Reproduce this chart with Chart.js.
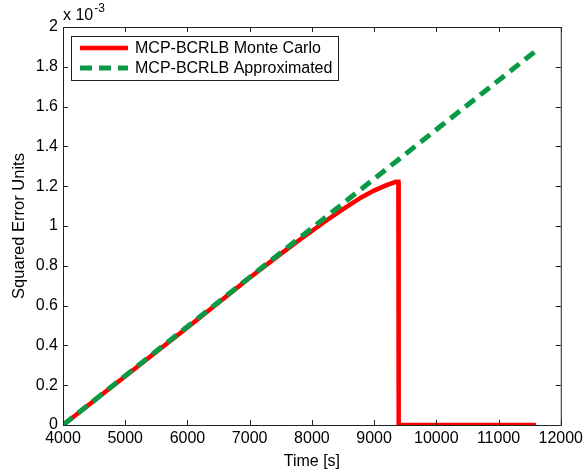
<!DOCTYPE html>
<html>
<head>
<meta charset="utf-8">
<script src="https://cdn.jsdelivr.net/npm/chart.js@4.4.0/dist/chart.umd.min.js"></script>
<style>
  html, body { margin: 0; padding: 0; background: #fff; }
  #wrap { width: 587px; height: 471px; }
</style>
</head>
<body>
<div id="wrap"><canvas id="grafico" width="587" height="471"></canvas></div>
<script>
// valores em unidades de 1e-3
const tempoMC = [4000, 5000, 6000, 7000, 7500, 7800, 8000, 8200, 8400, 8600, 8800, 9000, 9200, 9350, 9390, 9395, 11600];
const erroMC = [0, 0.245, 0.49, 0.74, 0.86, 0.93, 0.975, 1.02, 1.063, 1.105, 1.145, 1.178, 1.205, 1.222, 1.222, 0, 0];

const tempoAprox = [4000, 11600];
const erroAprox = [0, 1.88];

const xTicks = [4000, 5000, 6000, 7000, 8000, 9000, 10000, 11000, 12000];
const yTicks = [0, 0.2, 0.4, 0.6, 0.8, 1, 1.2, 1.4, 1.6, 1.8, 2];

const fonte = "'Liberation Sans', Arial, sans-serif";

function pontos(xs, ys) {
  return xs.map((x, i) => ({ x: x, y: ys[i] }));
}

// caixa, ticks para dentro e o "x 10^-3"
const estiloMatlab = {
  id: "estiloMatlab",
  afterDraw(chart) {
    const ctx = chart.ctx;
    const a = chart.chartArea;
    const sx = chart.scales.x;
    const sy = chart.scales.y;
    ctx.save();
    ctx.strokeStyle = "#222";
    ctx.lineWidth = 1;
    ctx.strokeRect(a.left + 0.5, a.top + 0.5, a.right - a.left, a.bottom - a.top);
    ctx.beginPath();
    xTicks.forEach(v => {
      const px = Math.round(sx.getPixelForValue(v)) + 0.5;
      ctx.moveTo(px, a.bottom); ctx.lineTo(px, a.bottom - 5);
      ctx.moveTo(px, a.top); ctx.lineTo(px, a.top + 5);
    });
    yTicks.forEach(v => {
      const py = Math.round(sy.getPixelForValue(v)) + 0.5;
      ctx.moveTo(a.left, py); ctx.lineTo(a.left + 5, py);
      ctx.moveTo(a.right, py); ctx.lineTo(a.right - 5, py);
    });
    ctx.stroke();
    ctx.fillStyle = "#000";
    ctx.textBaseline = "alphabetic";
    ctx.textAlign = "left";
    ctx.font = "16px " + fonte;
    ctx.fillText("x 10", a.left, a.top - 7);
    const w = ctx.measureText("x 10").width;
    ctx.font = "12px " + fonte;
    ctx.fillText("-3", a.left + w + 1, a.top - 15);
    ctx.restore();
  }
};

new Chart(document.getElementById("grafico"), {
  type: "line",
  data: {
    datasets: [
      {
        label: "MCP-BCRLB Monte Carlo",
        data: pontos(tempoMC, erroMC),
        borderColor: "#ff0000",
        backgroundColor: "#ff0000",
        borderWidth: 4.5,
        pointRadius: 0,
        tension: 0,
        order: 1
      },
      {
        label: "MCP-BCRLB Approximated",
        data: pontos(tempoAprox, erroAprox),
        borderColor: "#0a9a45",
        backgroundColor: "#0a9a45",
        borderWidth: 5,
        borderDash: [12, 7],
        pointRadius: 0,
        tension: 0,
        order: 0
      }
    ]
  },
  options: {
    responsive: false,
    animation: false,
    layout: { padding: { left: 0, right: 21, top: 27, bottom: 0 } },
    plugins: {
      legend: { display: false },
      tooltip: { enabled: false }
    },
    scales: {
      x: {
        type: "linear",
        min: 4000,
        max: 12000,
        afterBuildTicks: s => { s.ticks = xTicks.map(v => ({ value: v })); },
        afterFit: s => { s.height = 46; },
        grid: { display: false, drawTicks: false },
        border: { display: false },
        ticks: {
          color: "#000",
          font: { family: fonte, size: 16 },
          padding: 4,
          maxRotation: 0,
          autoSkip: false,
          callback: v => String(v)
        },
        title: {
          display: true,
          text: "Time [s]",
          color: "#000",
          font: { family: fonte, size: 16 },
          padding: { top: 0, bottom: 0 }
        }
      },
      y: {
        type: "linear",
        min: 0,
        max: 2,
        afterBuildTicks: s => { s.ticks = yTicks.map(v => ({ value: v })); },
        afterFit: s => { s.width = 63; },
        grid: { display: false, drawTicks: false },
        border: { display: false },
        ticks: {
          color: "#000",
          font: { family: fonte, size: 16 },
          padding: 5,
          autoSkip: false,
          callback: v => String(Math.round(v * 10) / 10)
        },
        title: {
          display: true,
          text: "Squared Error Units",
          color: "#000",
          font: { family: fonte, size: 16.5 },
          padding: { top: 10, bottom: 0 }
        }
      }
    }
  },
  plugins: [estiloMatlab, {
    id: "legendaCaixa",
    afterDraw(chart) {
      const ctx = chart.ctx;
      const a = chart.chartArea;
      const x0 = a.left + 8, y0 = a.top + 9, w = 267, h = 44;
      ctx.save();
      ctx.fillStyle = "#fff";
      ctx.fillRect(x0, y0, w, h);
      ctx.strokeStyle = "#222";
      ctx.lineWidth = 1;
      ctx.strokeRect(x0 + 0.5, y0 + 0.5, w, h);
      const ds = chart.data.datasets;
      ds.forEach((d, i) => {
        const yy = y0 + 12 + i * 20;
        ctx.beginPath();
        ctx.strokeStyle = d.borderColor;
        ctx.lineWidth = d.borderWidth;
        ctx.setLineDash(d.borderDash ? [12, 7] : []);
        ctx.moveTo(x0 + 9, yy);
        ctx.lineTo(x0 + 57, yy);
        ctx.stroke();
        ctx.setLineDash([]);
        ctx.fillStyle = "#000";
        ctx.font = "16px " + fonte;
        ctx.textBaseline = "middle";
        ctx.fillText(d.label, x0 + 64, yy + 1);
      });
      ctx.restore();
    }
  }]
});
</script>
</body>
</html>
